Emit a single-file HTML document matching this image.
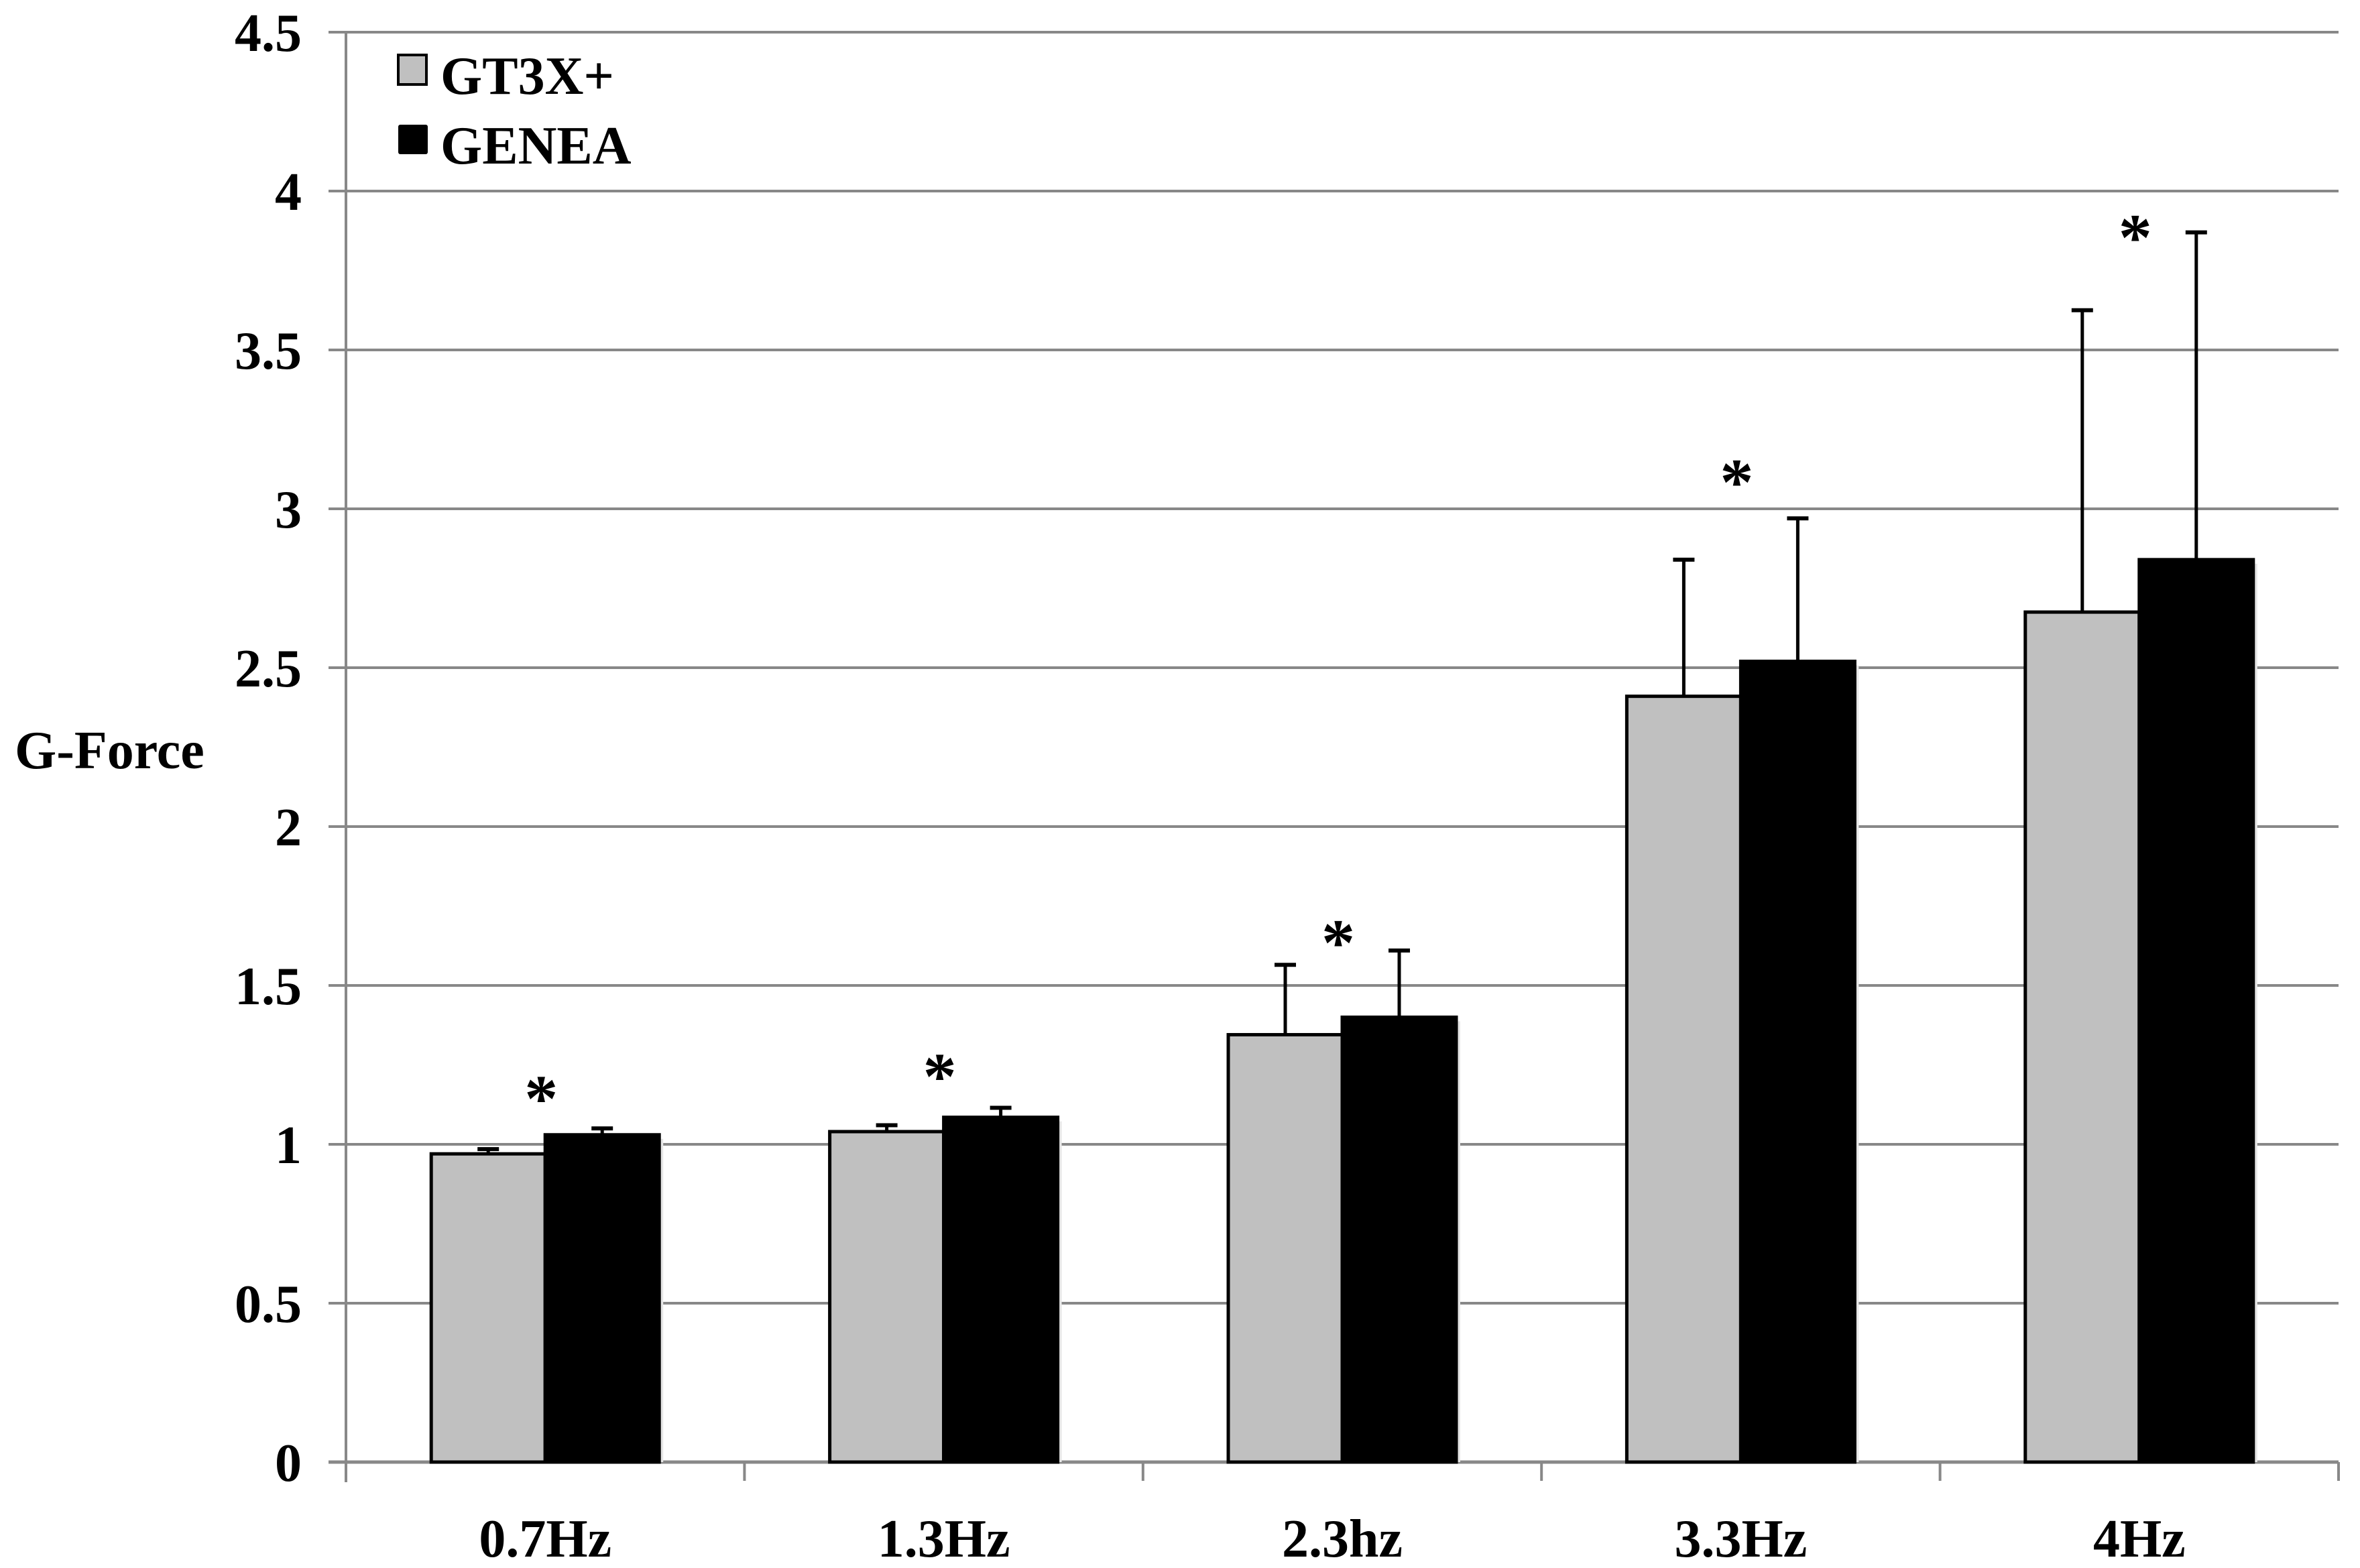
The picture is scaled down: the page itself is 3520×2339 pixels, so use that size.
<!DOCTYPE html>
<html><head><meta charset="utf-8"><style>
html,body{margin:0;padding:0;background:#fff;}
svg{display:block;}
text{font-family:"Liberation Serif",serif;font-weight:bold;fill:#000;}
</style></head><body>
<svg id="chart" width="3520" height="2339" viewBox="0 0 3520 2339" xmlns="http://www.w3.org/2000/svg"></svg>
<script>
const categories = ["0.7Hz","1.3Hz","2.3hz","3.3Hz","4Hz"];
const gt3xValues = [0.97,1.04,1.345,2.41,2.675];
const gt3xErrors = [0.015,0.02,0.22,0.43,0.95];
const geneaValues = [1.03,1.085,1.40,2.52,2.84];
const geneaErrors = [0.02,0.03,0.21,0.45,1.03];
const starValues = [1.19,1.26,1.68,3.13,3.90];
const yTicks = [0,0.5,1,1.5,2,2.5,3,3.5,4,4.5];
const yTickLabels = ["0","0.5","1","1.5","2","2.5","3","3.5","4","4.5"];

const NS="http://www.w3.org/2000/svg";
const svg=document.getElementById('chart');
const X0=516, X1=3488, Y0=2181, YTOP=48, YMAX=4.5;
const catW=(X1-X0)/categories.length;
const barW=170;
function yScale(v){return Y0-(v/YMAX)*(Y0-YTOP);}
function xCenter(i){return X0+catW*(i+0.5);}
function mk(tag,attrs,parent){const e=document.createElementNS(NS,tag);for(const k in attrs)e.setAttribute(k,attrs[k]);(parent||svg).appendChild(e);return e;}
function txt(s,x,y,anchor,size,sx){const t=mk('text',{transform:`translate(${x},${y}) scale(${sx||1},1)`,'font-size':size||80,'text-anchor':anchor||'start'});t.textContent=s;return t;}

yTicks.forEach((v,i)=>{
  const y=yScale(v);
  const g=mk('line',{x1:490,x2:X1,y1:y,y2:y,stroke:'#888','stroke-width':v===0?5:4});
  
  
  const t=txt(yTickLabels[i],450,y+28,'end',80,1);
  
  
});
const ya=mk('line',{x1:X0,x2:X0,y1:YTOP,y2:Y0+30,stroke:'#888','stroke-width':4});


for(let i=0;i<=categories.length;i++){
  const x=X0+catW*i;
  const tk=mk('line',{x1:x,x2:x,y1:Y0,y2:Y0+28,stroke:'#888','stroke-width':4});
  
  
}
function errBar(x,top,err){
  const yt=yScale(top+err), yb=yScale(top);
  const l=mk('line',{x1:x,x2:x,y1:yt,y2:yb,stroke:'#000','stroke-width':5});
  
  
  const c=mk('line',{x1:x-16,x2:x+16,y1:yt,y2:yt,stroke:'#000','stroke-width':6});
  
  
}
categories.forEach((c,i)=>{
  const cx=xCenter(i);
  mk('rect',{x:cx-barW+6,y:yScale(gt3xValues[i])+6,width:barW,height:Y0-yScale(gt3xValues[i])-6,fill:'#e6e6e6'});
  mk('rect',{x:cx+6,y:yScale(geneaValues[i])+6,width:barW,height:Y0-yScale(geneaValues[i])-6,fill:'#e6e6e6'});
  const b1=mk('rect',{x:cx-barW,y:yScale(gt3xValues[i]),width:barW,height:Y0-yScale(gt3xValues[i]),fill:'#c0c0c0',stroke:'#000','stroke-width':5});
  
  
  const b2=mk('rect',{x:cx,y:yScale(geneaValues[i]),width:barW,height:Y0-yScale(geneaValues[i]),fill:'#000',stroke:'#000','stroke-width':5});
  
  
  errBar(cx-barW/2,gt3xValues[i],gt3xErrors[i]);
  errBar(cx+barW/2,geneaValues[i],geneaErrors[i]);
  const s=mk('text',{x:cx-6,y:yScale(starValues[i])+55,'font-size':100,'font-weight':'normal','text-anchor':'middle'});
  s.textContent='*';
  
  
  const xl=txt(c,cx,2322,'middle',80,1);
  
  
});
const yt=txt('G-Force',22,1146,'start',80,1);


const l1=mk('rect',{x:594,y:82,width:42,height:44,fill:'#c0c0c0',stroke:'#000','stroke-width':4});


const lt1=txt('GT3X+',657,140,'start',80,1);


const l2=mk('rect',{x:594,y:186,width:44,height:44,fill:'#000',rx:3});


const lt2=txt('GENEA',657,244,'start',80,1);


</script>
</body></html>
